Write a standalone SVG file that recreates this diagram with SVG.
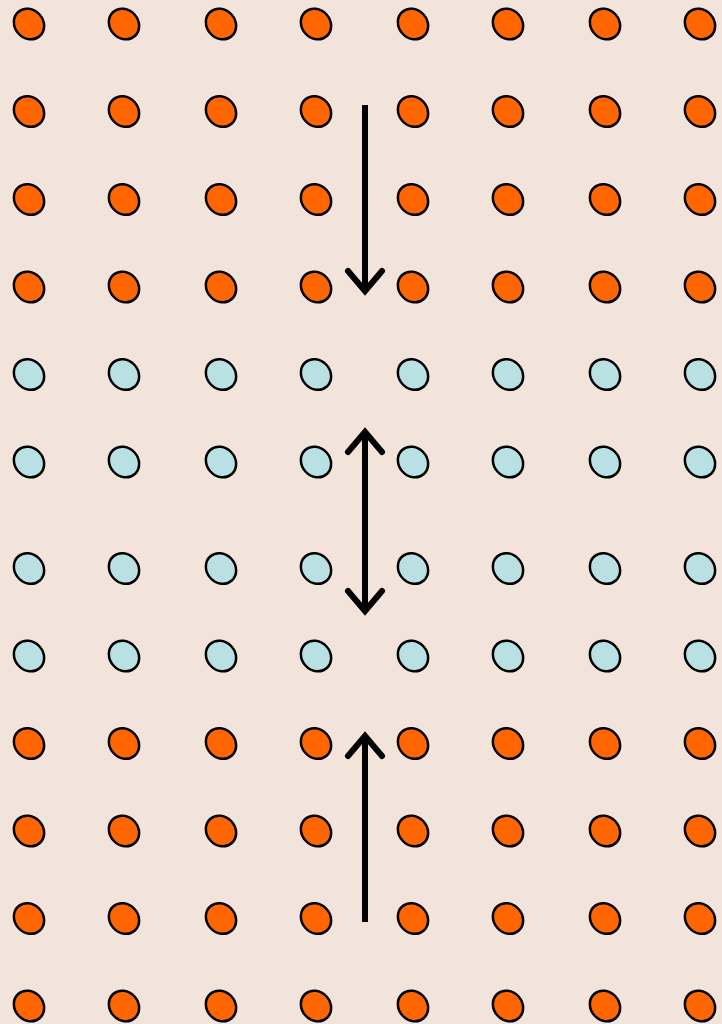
<svg xmlns="http://www.w3.org/2000/svg" xmlns:xlink="http://www.w3.org/1999/xlink" width="722" height="1024" viewBox="0 0 722 1024">
<style>
.o{fill:#FF6600;stroke:#000;stroke-width:2.5}
.b{fill:#B9E0E2;stroke:#000;stroke-width:2.5}
.ln{stroke:#000;stroke-width:6;fill:none}
.hd{stroke:#000;stroke-width:6;fill:none;stroke-linecap:round;stroke-linejoin:miter;stroke-miterlimit:10}
</style>
<defs>
<ellipse id="e" cx="0" cy="0" rx="16.2" ry="14.2" transform="rotate(48)"/>
</defs>
<rect width="722" height="1024" fill="#F2E3DB"/>
<g id="row1" class="o"><use id="n1-1" href="#e" x="29" y="24"/><use id="n1-2" href="#e" x="124" y="24"/><use id="n1-3" href="#e" x="221" y="24"/><use id="n1-4" href="#e" x="316" y="24"/><use id="n1-5" href="#e" x="413" y="24"/><use id="n1-6" href="#e" x="508" y="24"/><use id="n1-7" href="#e" x="605" y="24"/><use id="n1-8" href="#e" x="700" y="24"/></g>
<g id="row2" class="o"><use id="n2-1" href="#e" x="29" y="111.5"/><use id="n2-2" href="#e" x="124" y="111.5"/><use id="n2-3" href="#e" x="221" y="111.5"/><use id="n2-4" href="#e" x="316" y="111.5"/><use id="n2-5" href="#e" x="413" y="111.5"/><use id="n2-6" href="#e" x="508" y="111.5"/><use id="n2-7" href="#e" x="605" y="111.5"/><use id="n2-8" href="#e" x="700" y="111.5"/></g>
<g id="row3" class="o"><use id="n3-1" href="#e" x="29" y="199.5"/><use id="n3-2" href="#e" x="124" y="199.5"/><use id="n3-3" href="#e" x="221" y="199.5"/><use id="n3-4" href="#e" x="316" y="199.5"/><use id="n3-5" href="#e" x="413" y="199.5"/><use id="n3-6" href="#e" x="508" y="199.5"/><use id="n3-7" href="#e" x="605" y="199.5"/><use id="n3-8" href="#e" x="700" y="199.5"/></g>
<g id="row4" class="o"><use id="n4-1" href="#e" x="29" y="287"/><use id="n4-2" href="#e" x="124" y="287"/><use id="n4-3" href="#e" x="221" y="287"/><use id="n4-4" href="#e" x="316" y="287"/><use id="n4-5" href="#e" x="413" y="287"/><use id="n4-6" href="#e" x="508" y="287"/><use id="n4-7" href="#e" x="605" y="287"/><use id="n4-8" href="#e" x="700" y="287"/></g>
<g id="row5" class="b"><use id="n5-1" href="#e" x="29" y="374.5"/><use id="n5-2" href="#e" x="124" y="374.5"/><use id="n5-3" href="#e" x="221" y="374.5"/><use id="n5-4" href="#e" x="316" y="374.5"/><use id="n5-5" href="#e" x="413" y="374.5"/><use id="n5-6" href="#e" x="508" y="374.5"/><use id="n5-7" href="#e" x="605" y="374.5"/><use id="n5-8" href="#e" x="700" y="374.5"/></g>
<g id="row6" class="b"><use id="n6-1" href="#e" x="29" y="462"/><use id="n6-2" href="#e" x="124" y="462"/><use id="n6-3" href="#e" x="221" y="462"/><use id="n6-4" href="#e" x="316" y="462"/><use id="n6-5" href="#e" x="413" y="462"/><use id="n6-6" href="#e" x="508" y="462"/><use id="n6-7" href="#e" x="605" y="462"/><use id="n6-8" href="#e" x="700" y="462"/></g>
<g id="row7" class="b"><use id="n7-1" href="#e" x="29" y="568.5"/><use id="n7-2" href="#e" x="124" y="568.5"/><use id="n7-3" href="#e" x="221" y="568.5"/><use id="n7-4" href="#e" x="316" y="568.5"/><use id="n7-5" href="#e" x="413" y="568.5"/><use id="n7-6" href="#e" x="508" y="568.5"/><use id="n7-7" href="#e" x="605" y="568.5"/><use id="n7-8" href="#e" x="700" y="568.5"/></g>
<g id="row8" class="b"><use id="n8-1" href="#e" x="29" y="656"/><use id="n8-2" href="#e" x="124" y="656"/><use id="n8-3" href="#e" x="221" y="656"/><use id="n8-4" href="#e" x="316" y="656"/><use id="n8-5" href="#e" x="413" y="656"/><use id="n8-6" href="#e" x="508" y="656"/><use id="n8-7" href="#e" x="605" y="656"/><use id="n8-8" href="#e" x="700" y="656"/></g>
<g id="row9" class="o"><use id="n9-1" href="#e" x="29" y="743.5"/><use id="n9-2" href="#e" x="124" y="743.5"/><use id="n9-3" href="#e" x="221" y="743.5"/><use id="n9-4" href="#e" x="316" y="743.5"/><use id="n9-5" href="#e" x="413" y="743.5"/><use id="n9-6" href="#e" x="508" y="743.5"/><use id="n9-7" href="#e" x="605" y="743.5"/><use id="n9-8" href="#e" x="700" y="743.5"/></g>
<g id="row10" class="o"><use id="n10-1" href="#e" x="29" y="831"/><use id="n10-2" href="#e" x="124" y="831"/><use id="n10-3" href="#e" x="221" y="831"/><use id="n10-4" href="#e" x="316" y="831"/><use id="n10-5" href="#e" x="413" y="831"/><use id="n10-6" href="#e" x="508" y="831"/><use id="n10-7" href="#e" x="605" y="831"/><use id="n10-8" href="#e" x="700" y="831"/></g>
<g id="row11" class="o"><use id="n11-1" href="#e" x="29" y="918.5"/><use id="n11-2" href="#e" x="124" y="918.5"/><use id="n11-3" href="#e" x="221" y="918.5"/><use id="n11-4" href="#e" x="316" y="918.5"/><use id="n11-5" href="#e" x="413" y="918.5"/><use id="n11-6" href="#e" x="508" y="918.5"/><use id="n11-7" href="#e" x="605" y="918.5"/><use id="n11-8" href="#e" x="700" y="918.5"/></g>
<g id="row12" class="o"><use id="n12-1" href="#e" x="29" y="1006"/><use id="n12-2" href="#e" x="124" y="1006"/><use id="n12-3" href="#e" x="221" y="1006"/><use id="n12-4" href="#e" x="316" y="1006"/><use id="n12-5" href="#e" x="413" y="1006"/><use id="n12-6" href="#e" x="508" y="1006"/><use id="n12-7" href="#e" x="605" y="1006"/><use id="n12-8" href="#e" x="700" y="1006"/></g>
<g id="connectors">
<line class="ln" x1="365" y1="105" x2="365" y2="290"/>
<polyline class="hd" points="348,271 365,291 382,271"/>
<line class="ln" x1="365" y1="433" x2="365" y2="610"/>
<polyline class="hd" points="348,452 365,432 382,452"/>
<polyline class="hd" points="348,591 365,611 382,591"/>
<line class="ln" x1="365" y1="737" x2="365" y2="922"/>
<polyline class="hd" points="348,756 365,736 382,756"/>
</g>
</svg>
